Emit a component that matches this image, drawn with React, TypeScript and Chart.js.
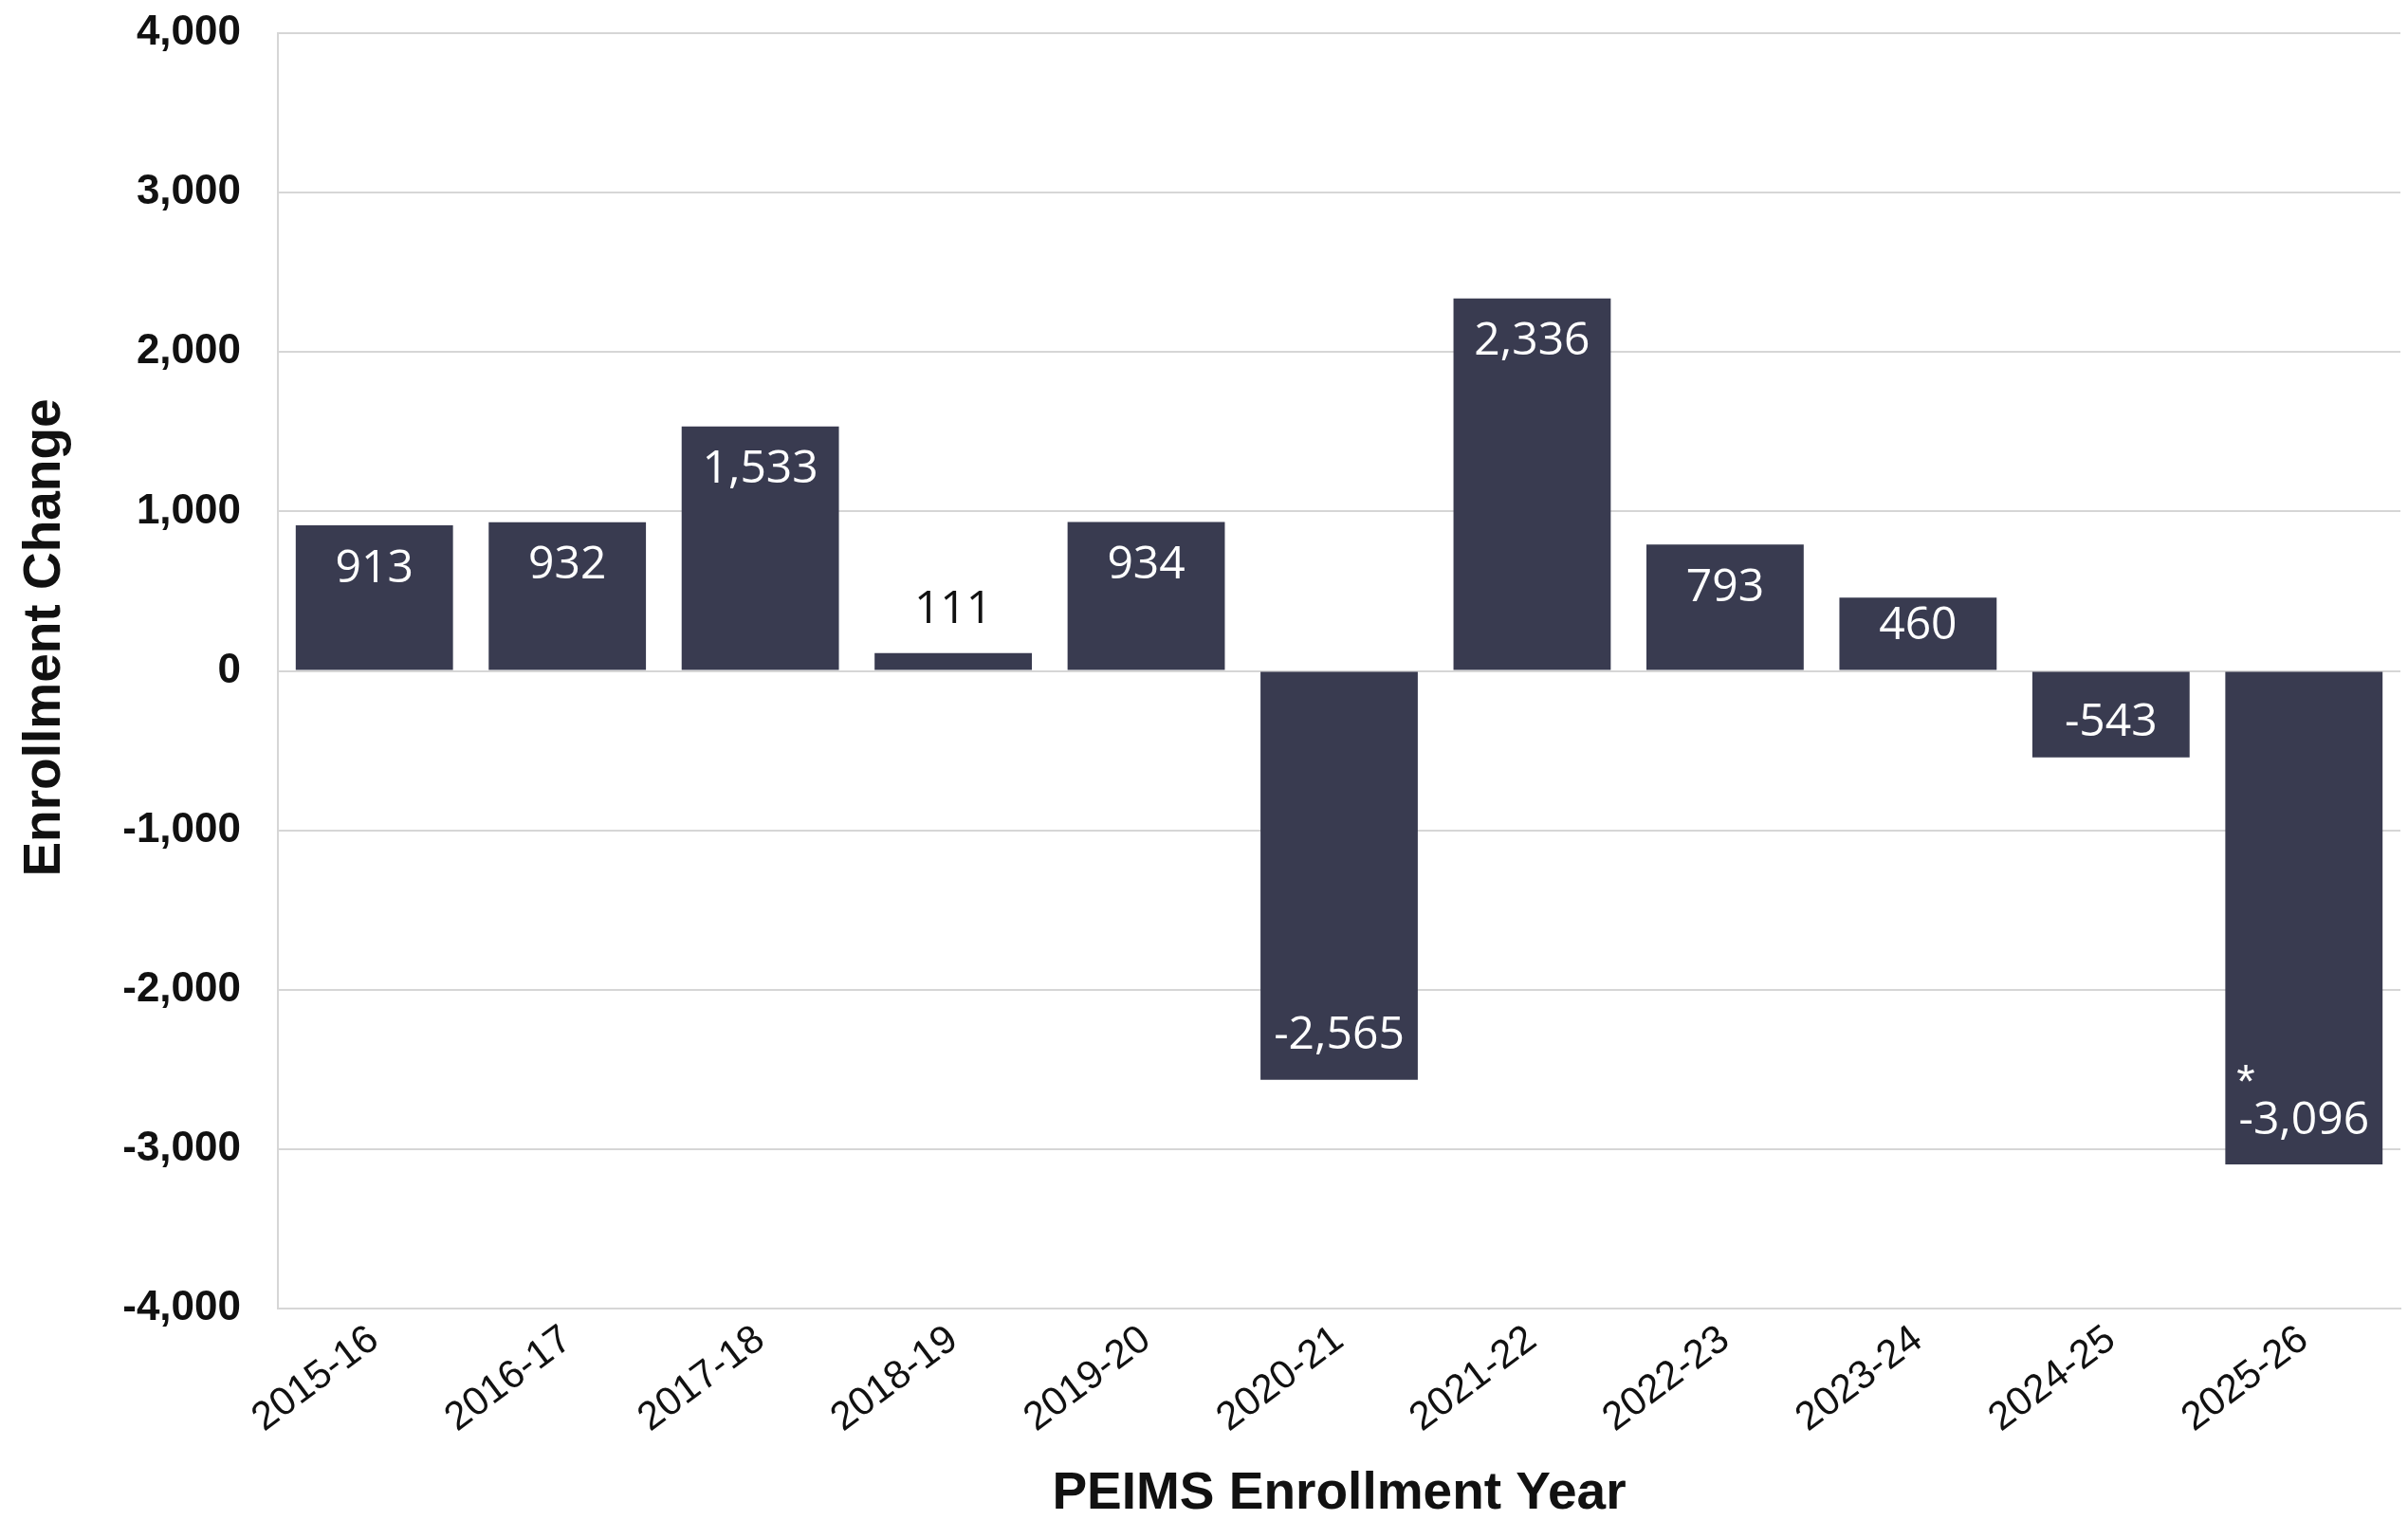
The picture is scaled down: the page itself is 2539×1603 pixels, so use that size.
import React, { useEffect, useRef } from "react";
import { Chart, registerables } from "chart.js";

Chart.register(...registerables);

const categories = ["2015-16", "2016-17", "2017-18", "2018-19", "2019-20", "2020-21", "2021-22", "2022-23", "2023-24", "2024-25", "2025-26"];
const enrollmentChange = [913, 932, 1533, 111, 934, -2565, 2336, 793, 460, -543, -3096];
const footnoteMarks = ["", "", "", "", "", "", "", "", "", "", "*"];
const yTickValues = [-4000, -3000, -2000, -1000, 0, 1000, 2000, 3000, 4000];
const yTitle = "Enrollment Change";
const xTitle = "PEIMS Enrollment Year";

const BAR_COLOR = "#393b50";
const GRID_COLOR = "#d6d6d6";

const fmt = (v: number) => v.toLocaleString("en-US");

const labelPlugin = {
  id: "barLabels",
  afterDatasetsDraw(chart: any) {
    const ctx = chart.ctx;
    const meta = chart.getDatasetMeta(0);
    ctx.save();
    ctx.font = "48px 'Open Sans'";
    ctx.textAlign = "center";
    ctx.textBaseline = "middle";
    meta.data.forEach((bar: any, i: number) => {
      const v = enrollmentChange[i];
      const top = Math.min(bar.y, bar.base);
      const bottom = Math.max(bar.y, bar.base);
      const h = bottom - top;
      let y: number;
      if (h < 60) {
        ctx.fillStyle = "#111111";
        y = top - 46;
      } else {
        ctx.fillStyle = "#ffffff";
        const off = Math.min(46, h * 0.4);
        y = v >= 0 ? top + off : bottom - off;
      }
      ctx.fillText(fmt(v), bar.x, y);
      const mark = footnoteMarks[i];
      if (mark) {
        ctx.save();
        ctx.fillStyle = "#ffffff";
        ctx.font = "50px 'Liberation Sans'";
        ctx.textAlign = "left";
        ctx.fillText(mark, bar.x - bar.width / 2 + 12, y - 38);
        ctx.restore();
      }
    });
    ctx.restore();
  },
};

const yTitlePlugin = {
  id: "yTitle",
  afterDraw(chart: any) {
    const ctx = chart.ctx;
    const area = chart.chartArea;
    ctx.save();
    ctx.translate(48, (area.top + area.bottom) / 2 - 35);
    ctx.rotate(-Math.PI / 2);
    ctx.font = "bold 55px 'Liberation Sans'";
    ctx.fillStyle = "#111111";
    ctx.textAlign = "center";
    ctx.textBaseline = "middle";
    ctx.fillText(yTitle, 0, 0);
    ctx.restore();
  },
};

export default function App() {
  const ref = useRef<HTMLCanvasElement | null>(null);
  useEffect(() => {
    if (!ref.current) return;
    const chart = new Chart(ref.current, {
      type: "bar",
      data: {
        labels: categories,
        datasets: [
          {
            data: enrollmentChange,
            backgroundColor: BAR_COLOR,
            borderWidth: 0,
            categoryPercentage: 1,
            barPercentage: 0.815,
          },
        ],
      },
      options: {
        animation: false,
        responsive: false,
        devicePixelRatio: 1,
        layout: { padding: { top: 35, right: 8, left: 0, bottom: 0 } },
        plugins: { legend: { display: false }, tooltip: { enabled: false } },
        scales: {
          x: {
            grid: { display: false, drawTicks: false },
            border: { display: true, color: GRID_COLOR, width: 2 },
            ticks: {
              autoSkip: false,
              minRotation: 37,
              maxRotation: 37,
              padding: 8,
              color: "#111111",
              font: { family: "'Liberation Sans'", size: 42 },
            },
            title: {
              display: true,
              text: xTitle,
              color: "#111111",
              font: { family: "'Liberation Sans'", size: 55, weight: "bold" },
              padding: { top: 0, bottom: -6 },
            },
            afterFit: (scale: any) => {
              scale.height = 223;
              scale.paddingLeft = 0;
              scale.paddingRight = 0;
            },
          },
          y: {
            min: -4000,
            max: 4000,
            afterBuildTicks: (scale: any) => {
              scale.ticks = yTickValues.map((v) => ({ value: v }));
            },
            grid: { color: GRID_COLOR, lineWidth: 2, drawTicks: false },
            border: { display: true, color: GRID_COLOR, width: 2 },
            ticks: {
              padding: 39,
              color: "#111111",
              font: { family: "'Liberation Sans'", size: 44, weight: "bold" },
              callback: (v: any) => fmt(Number(v)),
            },
            title: { display: false },
            afterFit: (scale: any) => {
              scale.width = 293;
              scale.paddingTop = 0;
              scale.paddingBottom = 0;
            },
          },
        },
      },
      plugins: [labelPlugin, yTitlePlugin],
    });
    return () => chart.destroy();
  }, []);
  return (
    <div style={{ position: "fixed", left: 0, top: 0, width: 2539, height: 1603, background: "#ffffff" }}>
      <canvas ref={ref} width={2539} height={1603} style={{ width: 2539, height: 1603, display: "block" }} />
    </div>
  );
}
